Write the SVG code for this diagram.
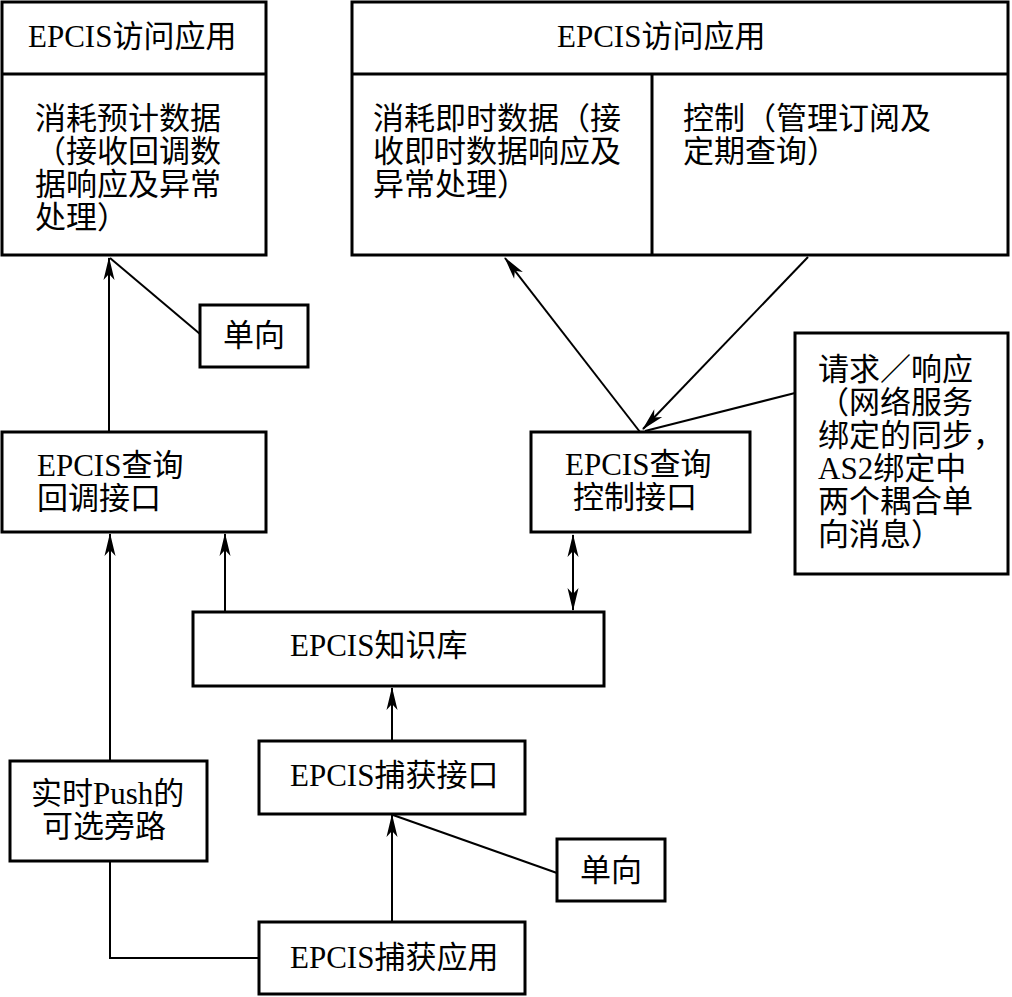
<svg xmlns="http://www.w3.org/2000/svg" width="1012" height="997" viewBox="0 0 1012 997">
<style>
.box{fill:#fff;stroke:#000;stroke-width:3}
.div{stroke:#000;stroke-width:3;fill:none}
.ln{stroke:#000;stroke-width:2;fill:none}
text{font-family:"Liberation Serif","Noto Sans CJK SC",serif;font-size:31px;fill:#000}
</style>
<defs>
<marker id="ah" viewBox="-24 -7 26 14" refX="0" refY="0" markerWidth="26" markerHeight="14" markerUnits="userSpaceOnUse" orient="auto-start-reverse">
<path d="M1,0 L-22,-5.5 L-16,0 L-22,5.5 Z" fill="#000"/>
</marker>
</defs>
<g id="connectors">
<line class="ln" x1="109" y1="432" x2="109" y2="258" marker-end="url(#ah)"/>
<line class="ln" x1="200" y1="334" x2="110" y2="258"/>
<polyline class="ln" points="259,958 110,958 110,861"/>
<line class="ln" x1="110" y1="761" x2="110" y2="534" marker-end="url(#ah)"/>
<line class="ln" x1="225" y1="612" x2="225" y2="534" marker-end="url(#ah)"/>
<line class="ln" x1="573" y1="535" x2="573" y2="610" marker-start="url(#ah)" marker-end="url(#ah)"/>
<line class="ln" x1="392" y1="740" x2="392" y2="688" marker-end="url(#ah)"/>
<line class="ln" x1="392" y1="922" x2="392" y2="815" marker-end="url(#ah)"/>
<line class="ln" x1="557" y1="873" x2="393" y2="815"/>
<line class="ln" x1="640" y1="432" x2="505" y2="258" marker-end="url(#ah)"/>
<line class="ln" x1="808" y1="257" x2="643" y2="429" marker-end="url(#ah)"/>
<line class="ln" x1="795" y1="393" x2="645" y2="431"/>
</g>
<g id="access-app-left">
<rect class="box" x="2" y="2" width="264" height="253"/>
<line class="div" x1="2" y1="74" x2="266" y2="74"/>
<text x="28" y="47">EPCIS访问应用</text>
<text x="35" y="129">消耗预计数据</text>
<text x="35" y="162">（接收回调数</text>
<text x="35" y="195">据响应及异常</text>
<text x="35" y="228">处理）</text>
</g>
<g id="access-app-right">
<rect class="box" x="352" y="2" width="656" height="253"/>
<line class="div" x1="352" y1="74" x2="1008" y2="74"/>
<line class="div" x1="652" y1="74" x2="652" y2="255"/>
<text x="557" y="47">EPCIS访问应用</text>
<text x="373" y="129">消耗即时数据（接</text>
<text x="373" y="162">收即时数据响应及</text>
<text x="373" y="195">异常处理）</text>
<text x="683" y="129">控制（管理订阅及</text>
<text x="683" y="162">定期查询）</text>
</g>
<g id="oneway-1">
<rect class="box" x="200" y="305" width="108" height="62"/>
<text x="223" y="346">单向</text>
</g>
<g id="callback-interface">
<rect class="box" x="2" y="432" width="264" height="100"/>
<text x="37" y="476">EPCIS查询</text>
<text x="37" y="509">回调接口</text>
</g>
<g id="control-interface">
<rect class="box" x="531" y="432" width="219" height="100"/>
<text x="565" y="475">EPCIS查询</text>
<text x="573" y="508">控制接口</text>
</g>
<g id="request-response">
<rect class="box" x="795" y="333" width="213" height="241"/>
<text x="818" y="380">请求／响应</text>
<text x="818" y="413">（网络服务</text>
<text x="818" y="446">绑定的同步，</text>
<text x="818" y="479">AS2绑定中</text>
<text x="818" y="512">两个耦合单</text>
<text x="818" y="545">向消息）</text>
</g>
<g id="repository">
<rect class="box" x="193" y="612" width="411" height="74"/>
<text x="290" y="656">EPCIS知识库</text>
</g>
<g id="capture-interface">
<rect class="box" x="259" y="741" width="266" height="73"/>
<text x="290" y="786">EPCIS捕获接口</text>
</g>
<g id="push-bypass">
<rect class="box" x="10" y="761" width="197" height="100"/>
<text x="31" y="804">实时Push的</text>
<text x="42" y="837">可选旁路</text>
</g>
<g id="oneway-2">
<rect class="box" x="557" y="839" width="108" height="62"/>
<text x="580" y="881">单向</text>
</g>
<g id="capture-app">
<rect class="box" x="259" y="922" width="266" height="72"/>
<text x="290" y="968">EPCIS捕获应用</text>
</g>
</svg>
